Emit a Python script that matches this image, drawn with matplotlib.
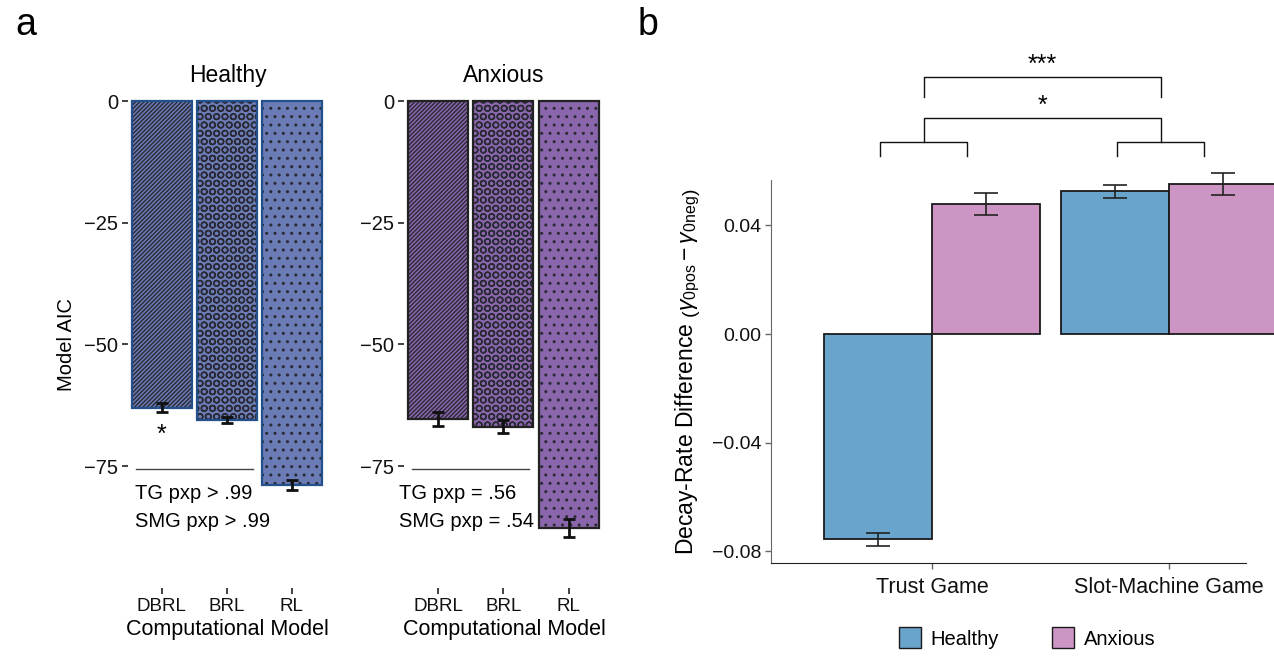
import matplotlib
matplotlib.use('Agg')
import matplotlib.pyplot as plt
from matplotlib.patches import Patch
import numpy as np

plt.rcParams['font.family'] = ['Liberation Sans', 'DejaVu Sans']
plt.rcParams['mathtext.fontset'] = 'custom'
plt.rcParams['mathtext.rm'] = 'Liberation Sans'
plt.rcParams['mathtext.it'] = 'Liberation Sans:italic'
plt.rcParams['hatch.linewidth'] = 1.0

# ---- data (panel a: model AIC) ----
models = ['DBRL', 'BRL', 'RL']
aic_healthy = [-63.0, -65.5, -78.9]
aic_healthy_se = [0.9, 0.7, 1.0]
aic_anxious = [-65.3, -66.9, -87.7]
aic_anxious_se = [1.4, 1.3, 1.8]
pxp_healthy = ['TG pxp > .99', 'SMG pxp > .99']
pxp_anxious = ['TG pxp = .56', 'SMG pxp = .54']

# ---- data (panel b: decay-rate difference) ----
games = ['Trust Game', 'Slot-Machine Game']
decay_healthy = [-0.0755, 0.0526]
decay_healthy_se = [0.0024, 0.0024]
decay_anxious = [0.0478, 0.0552]
decay_anxious_se = [0.0040, 0.0040]

fig = plt.figure(figsize=(12.74, 6.58), dpi=100)


def aic_panel(ax, vals, errs, face, edge, title, pxp, text_x, star=None):
    x = np.arange(1, len(vals) + 1)
    hatches = ['////////', 'OO', '..']
    for xi, v, h in zip(x, vals, hatches):
        ax.bar(xi, v, width=0.92, color=face, edgecolor='#2a2a35', hatch=h,
               linewidth=0, clip_on=False)
        ax.bar(xi, v, width=0.92, fill=False, edgecolor=edge, linewidth=1.6,
               clip_on=False)
    ax.errorbar(x, vals, yerr=errs, fmt='none', ecolor='#111111',
                elinewidth=2, capsize=4.5, capthick=2, clip_on=False)
    ax.set_xlim(0.48, 3.54)
    ax.set_ylim(-100, 0)
    ax.set_xticks(x)
    ax.set_xticklabels(models, fontsize=13.5)
    ax.set_yticks([0, -25, -50, -75])
    ax.set_yticklabels(['0', '\u221225', '\u221250', '\u221275'], fontsize=14.5)
    for s in ax.spines.values():
        s.set_visible(False)
    ax.tick_params(axis='both', length=4, width=1.3, color='#333333',
                   labelcolor='#111111', pad=3)
    ax.set_title(title, fontsize=16.5, pad=14)
    ax.set_xlabel('Computational Model', fontsize=15.5, labelpad=3)
    # separator line and pxp text
    ax.plot([0.6, 2.4], [-75.6, -75.6], color='#444444', lw=1, clip_on=False)
    ax.text(text_x, -80.6, pxp[0], fontsize=14.5, va='center', ha='left')
    ax.text(text_x, -86.4, pxp[1], fontsize=14.5, va='center', ha='left')
    if star is not None:
        ax.text(x[star], -68.5, '*', fontsize=18, ha='center', va='center')


ax1 = fig.add_axes([0.1005, 0.1064, 0.1562, 0.7401])
aic_panel(ax1, aic_healthy, aic_healthy_se, '#6a7bb5', '#23508a', 'Healthy',
          pxp_healthy, 0.58, star=0)
ax1.set_ylabel('Model AIC', fontsize=14.5, labelpad=6)

ax2 = fig.add_axes([0.3171, 0.1064, 0.1570, 0.7401])
aic_panel(ax2, aic_anxious, aic_anxious_se, '#8a66ac', '#222222', 'Anxious',
          pxp_anxious, 0.40)

# ---- panel b ----
ax3 = fig.add_axes([0.6052, 0.1444, 0.3728, 0.5820])
c = np.arange(1, len(games) + 1)
w = 0.456
ax3.bar(c - w / 2, decay_healthy, width=w, color='#68a4cc', edgecolor='#1a1a1a',
        linewidth=1.3, clip_on=False)
ax3.bar(c + w / 2, decay_anxious, width=w, color='#cc95c4', edgecolor='#1a1a1a',
        linewidth=1.3, clip_on=False)
ax3.errorbar(c - w / 2, decay_healthy, yerr=decay_healthy_se, fmt='none',
             ecolor='#222222', elinewidth=1.2, capsize=8.5, capthick=1.2)
ax3.errorbar(c + w / 2, decay_anxious, yerr=decay_anxious_se, fmt='none',
             ecolor='#222222', elinewidth=1.2, capsize=8.5, capthick=1.2,
             clip_on=False)
ax3.set_xlim(0.321, 2.325)
ax3.set_ylim(-0.0843, 0.0567)
ax3.set_yticks([0.04, 0.0, -0.04, -0.08])
ax3.set_yticklabels(['0.04', '0.00', '\u22120.04', '\u22120.08'], fontsize=14)
ax3.set_xticks(c)
ax3.set_xticklabels(games, fontsize=15.5)
ax3.spines['top'].set_visible(False)
ax3.spines['right'].set_visible(False)
ax3.spines['left'].set_color('#666666')
ax3.spines['bottom'].set_color('#222222')
ax3.tick_params(axis='both', length=4, width=1, color='#666666',
                labelcolor='#111111', pad=3)
ax3.tick_params(axis='x', pad=6)
ax3.set_ylabel(r'Decay-Rate Difference $\left(\gamma_{\mathrm{0pos}} - \gamma_{\mathrm{0neg}}\right)$',
               fontsize=16.5, labelpad=6)

# significance brackets
m = c - 0.035
half = 0.185
kw = dict(color='#111111', lw=1, clip_on=False)
for mi in m:
    ax3.plot([mi - half, mi - half, mi + half, mi + half],
             [0.0655, 0.0707, 0.0707, 0.0655], **kw)
ax3.plot([m[0], m[0], m[1], m[1]], [0.0707, 0.0795, 0.0795, 0.0707], **kw)
ax3.plot([m[0], m[0], m[1], m[1]], [0.0872, 0.0946, 0.0946, 0.0872], **kw)
ax3.text(m.mean(), 0.0795, '*', fontsize=18, ha='center', va='bottom')
ax3.text(m.mean(), 0.0946, '***', fontsize=18, ha='center', va='bottom')

handles = [Patch(facecolor='#68a4cc', edgecolor='#1a1a1a', label='Healthy'),
           Patch(facecolor='#cc95c4', edgecolor='#1a1a1a', label='Anxious')]
fig.legend(handles=handles, loc='center', bbox_to_anchor=(1027 / 1274, 1 - 638 / 658),
           ncol=2, frameon=False, fontsize=14.5, handlelength=1.1, handleheight=1.2,
           columnspacing=2.6, handletextpad=0.5)

fig.text(15 / 1274, 1 - 25 / 658, 'a', fontsize=27, ha='left', va='center')
fig.text(638 / 1274, 1 - 25 / 658, 'b', fontsize=27, ha='left', va='center')

fig.savefig('out.png', dpi=100)
